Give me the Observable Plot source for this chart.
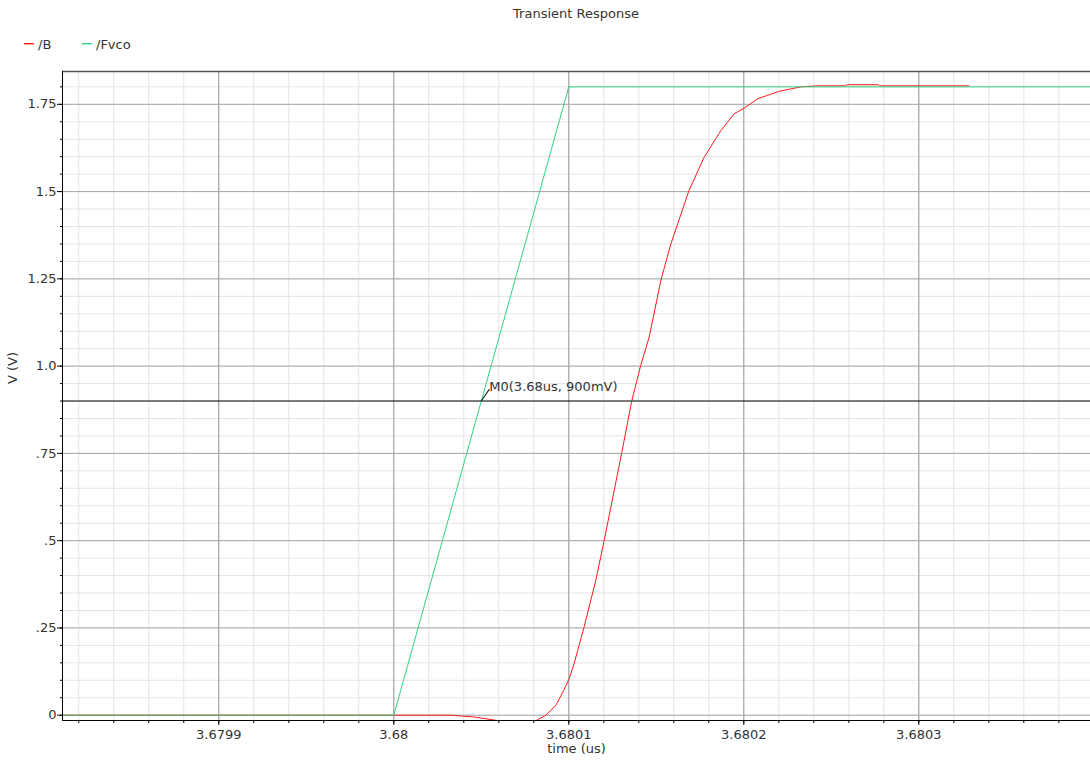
<!DOCTYPE html>
<html>
<head>
<meta charset="utf-8">
<script src="https://cdn.jsdelivr.net/npm/d3@7"></script>
<script src="https://cdn.jsdelivr.net/npm/@observablehq/plot@0.6"></script>
<style>
  body { margin: 0; background: #fff; font-family: "DejaVu Sans", sans-serif; }
  #wrap { width: 1090px; position: relative; }
  #header { position: relative; height: 60px; }
  #title { position: absolute; left: 62px; right: 0; top: 6px; text-align: center; font-size: 13px; color: #333; }
</style>
</head>
<body>
<div id="wrap">
  <div id="header">
    <div id="title">Transient Response</div>
    <svg id="legend" width="300" height="24" style="position:absolute;left:0;top:32px"></svg>
  </div>
  <div id="chart"></div>
</div>
<script>
// ---- data ----
const seriesNames = ["/B", "/Fvco"];
const seriesColors = ["#ff1a1a", "#2fd184"];

// /B (red) samples: time (us), voltage (V)
const timeB = [3.6798, 3.68, 3.6800326, 3.6800457, 3.68006, 3.6800709, 3.6800811, 3.6800869, 3.6800926,
  3.680097, 3.6801002, 3.680103, 3.6801087, 3.6801154, 3.6801202, 3.6801254, 3.6801303, 3.680136,
  3.6801411, 3.6801459, 3.6801526, 3.6801583, 3.6801687, 3.6801773, 3.6801869, 3.6801945, 3.6802002,
  3.680208, 3.68022, 3.6802326, 3.6802417, 3.6802583, 3.6802589, 3.6802771, 3.6802777, 3.6803286];
const voltsB = [0, 0, 0, -0.005, -0.016, -0.022, -0.016, 0.0, 0.028,
  0.07, 0.104, 0.147, 0.252, 0.386, 0.50, 0.63, 0.753, 0.901,
  1.002, 1.083, 1.245, 1.35, 1.503, 1.598, 1.675, 1.723, 1.739,
  1.766, 1.787, 1.800, 1.803, 1.803, 1.806, 1.806, 1.803, 1.803];

// /Fvco (green) samples
const timeF = [3.6798, 3.68, 3.6801, 3.6804];
const voltsF = [0, 0, 1.8, 1.8];

// marker M0
const markerT = [3.68005];
const markerV = [0.9];
const markerLabel = ["M0(3.68us, 900mV)"];

// axes
const xDomain = [3.6798107, 3.6803981];
const yDomain = [-0.0152, 1.844];
const xMajor = [3.6799, 3.68, 3.6801, 3.6802, 3.6803];
const xTickLabels = ["3.6799", "3.68", "3.6801", "3.6802", "3.6803"];
const yMajor = [0, 0.25, 0.5, 0.75, 1.0, 1.25, 1.5, 1.75];
const yTickLabels = ["0", ".25", ".5", ".75", "1.0", "1.25", "1.5", "1.75"];
const xLabel = "time (us)";
const yLabel = "V (V)";

// ---- build ----
const rowsB = timeB.map((t, i) => ({t, v: voltsB[i]}));
const rowsF = timeF.map((t, i) => ({t, v: voltsF[i]}));
const markers = markerT.map((t, i) => ({t, v: markerV[i], label: markerLabel[i]}));

const xStep = 0.00002, yStep = 0.05;
const xMinor = d3.range(Math.ceil(xDomain[0] / xStep), Math.floor(xDomain[1] / xStep) + 1).map(k => +(k * xStep).toFixed(6));
const yMinor = d3.range(0, Math.floor(yDomain[1] / yStep) + 1).map(k => +(k * yStep).toFixed(3));
const xLabelMap = new Map(xMajor.map((d, i) => [d, xTickLabels[i]]));
const yLabelMap = new Map(yMajor.map((d, i) => [d, yTickLabels[i]]));

// legend (line swatch + label)
const legX = [24, 82];
const leg = d3.select("#legend");
seriesNames.forEach((name, i) => {
  leg.append("rect").attr("x", legX[i]).attr("y", 11).attr("width", 10).attr("height", 1.4).attr("fill", seriesColors[i]);
  leg.append("text").attr("x", legX[i] + 14).attr("y", 16.5).attr("font-size", 13)
    .attr("font-family", "DejaVu Sans, sans-serif").attr("fill", "#333").text(name);
});

const chart = Plot.plot({
  width: 1090,
  height: 702,
  marginTop: 11,
  marginBottom: 42,
  marginLeft: 62,
  marginRight: 0,
  style: {fontFamily: "DejaVu Sans, sans-serif", fontSize: "13px", color: "#333", background: "#fff"},
  x: {domain: xDomain, axis: null},
  y: {domain: yDomain, axis: null},
  marks: [
    Plot.ruleX(xMinor, {stroke: "#e4e4e4", strokeWidth: 1}),
    Plot.ruleY(yMinor, {stroke: "#e4e4e4", strokeWidth: 1}),
    Plot.ruleX(xMajor, {stroke: "#9a9a9a", strokeWidth: 1}),
    Plot.ruleY(yMajor, {stroke: "#a8a8a8", strokeWidth: 1}),
    Plot.ruleY([0.9], {stroke: "#000", strokeWidth: 1}),
    Plot.line(rowsB, {x: "t", y: "v", stroke: seriesColors[0], strokeWidth: 1, clip: true}),
    Plot.line(rowsF, {x: "t", y: "v", stroke: seriesColors[1], strokeWidth: 1, clip: true}),
    Plot.vector(markers, {x: "t", y: "v", length: 14, rotate: 34, anchor: "start", stroke: "#000", strokeWidth: 1,
      shape: {draw(ctx, l) { ctx.moveTo(0, 0); ctx.lineTo(0, -l); }}}),
    Plot.text(markers, {x: "t", y: "v", text: "label", dx: 8, dy: -14, textAnchor: "start", fill: "#333", fontSize: 13}),
    Plot.ruleY([yDomain[1]], {stroke: "#555", strokeWidth: 1.5}),
    Plot.ruleX([xDomain[0]], {stroke: "#000", strokeWidth: 1}),
    Plot.ruleY([yDomain[0]], {stroke: "#000", strokeWidth: 1}),
    Plot.axisX(xMinor, {anchor: "bottom", tickSize: 3, tickFormat: () => "", label: null, stroke: "#000"}),
    Plot.axisX(xMajor, {anchor: "bottom", tickSize: 5, tickPadding: 4, tickFormat: d => xLabelMap.get(d), label: null, stroke: "#000", fill: "#333", fontSize: 13}),
    Plot.axisY(yMinor, {anchor: "left", tickSize: 2, tickFormat: () => "", label: null, stroke: "#000"}),
    Plot.axisY(yMajor, {anchor: "left", tickSize: 5, tickPadding: 1, tickFormat: d => yLabelMap.get(d), label: null, stroke: "#000", fill: "#333", fontSize: 13}),
    Plot.text([xLabel], {frameAnchor: "bottom", dy: 32, fill: "#333", fontSize: 13}),
    Plot.text([yLabel], {frameAnchor: "left", dx: -50, dy: -12, rotate: -90, fill: "#333", fontSize: 13})
  ]
});
document.getElementById("chart").appendChild(chart);
</script>
</body>
</html>
